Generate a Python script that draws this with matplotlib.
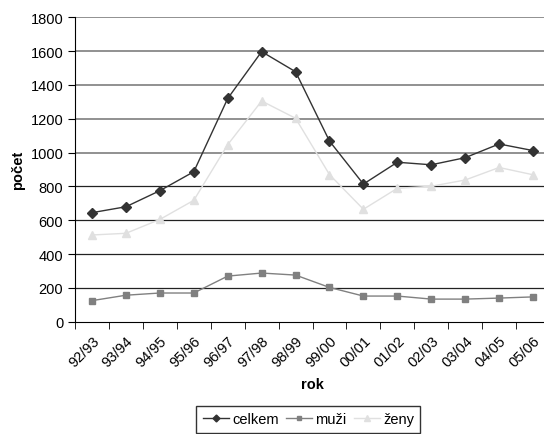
import matplotlib
matplotlib.use("Agg")
import matplotlib.pyplot as plt
import numpy as np

plt.rcParams['font.family'] = ['Liberation Sans', 'DejaVu Sans']

roky = ["92/93", "93/94", "94/95", "95/96", "96/97", "97/98", "98/99",
        "99/00", "00/01", "01/02", "02/03", "03/04", "04/05", "05/06"]
celkem = [645, 680, 775, 887, 1320, 1597, 1478, 1068, 814, 943, 928, 970, 1051, 1012]
muzi = [125, 157, 170, 170, 270, 288, 276, 203, 152, 152, 134, 134, 140, 147]
zeny = [513, 523, 605, 718, 1047, 1305, 1203, 870, 665, 789, 801, 838, 912, 869]

fig = plt.figure(figsize=(5.44, 4.35), dpi=100)
ax = fig.add_axes([0.138, 0.258, 0.873, 0.700])

x = np.arange(len(roky))
ax.plot(x, celkem, color='#333333', lw=1, marker='D', ms=5, label='celkem')
ax.plot(x, muzi, color='#808080', lw=1, marker='s', ms=5, label='muži')
ax.plot(x, zeny, color='#e0e0e0', lw=1, marker='^', ms=6, label='ženy')

ax.set_xlim(-0.5, len(roky) - 0.5)
ax.set_ylim(0, 1800)
ax.set_yticks(range(0, 1801, 200))
ax.set_xticks(x)
ax.set_xticks(np.arange(-0.5, len(roky), 1), minor=True)
ax.set_xticklabels(roky, rotation=45, ha='right', rotation_mode='anchor', fontsize=10.5)
ax.tick_params(axis='x', which='major', length=0, pad=8)
ax.tick_params(axis='x', which='minor', length=5, direction='out')
ax.tick_params(axis='y', length=5, direction='out', labelsize=10.5)

for v in range(200, 1801, 200):
    if v >= 1000:
        ax.axhline(v, color='#888888', lw=1.3, zorder=0)
    else:
        ax.axhline(v, color='#222222', lw=0.9, zorder=0)

for s in ['top', 'right']:
    ax.spines[s].set_visible(False)
ax.spines['left'].set_color('black')
ax.spines['bottom'].set_color('black')

ax.set_ylabel('počet', fontweight='bold', fontsize=10.5, labelpad=4)
ax.set_xlabel('rok', fontweight='bold', fontsize=10.5, labelpad=6)

leg = fig.legend(loc='lower center', bbox_to_anchor=(0.567, -0.014), ncol=3,
                 frameon=True, fancybox=False, edgecolor='black', fontsize=10.5,
                 handlelength=1.8, handletextpad=0.2, columnspacing=0.5,
                 markerscale=0.7, borderpad=0.45)
leg.get_frame().set_linewidth(1)

fig.savefig('out.png', dpi=100)
